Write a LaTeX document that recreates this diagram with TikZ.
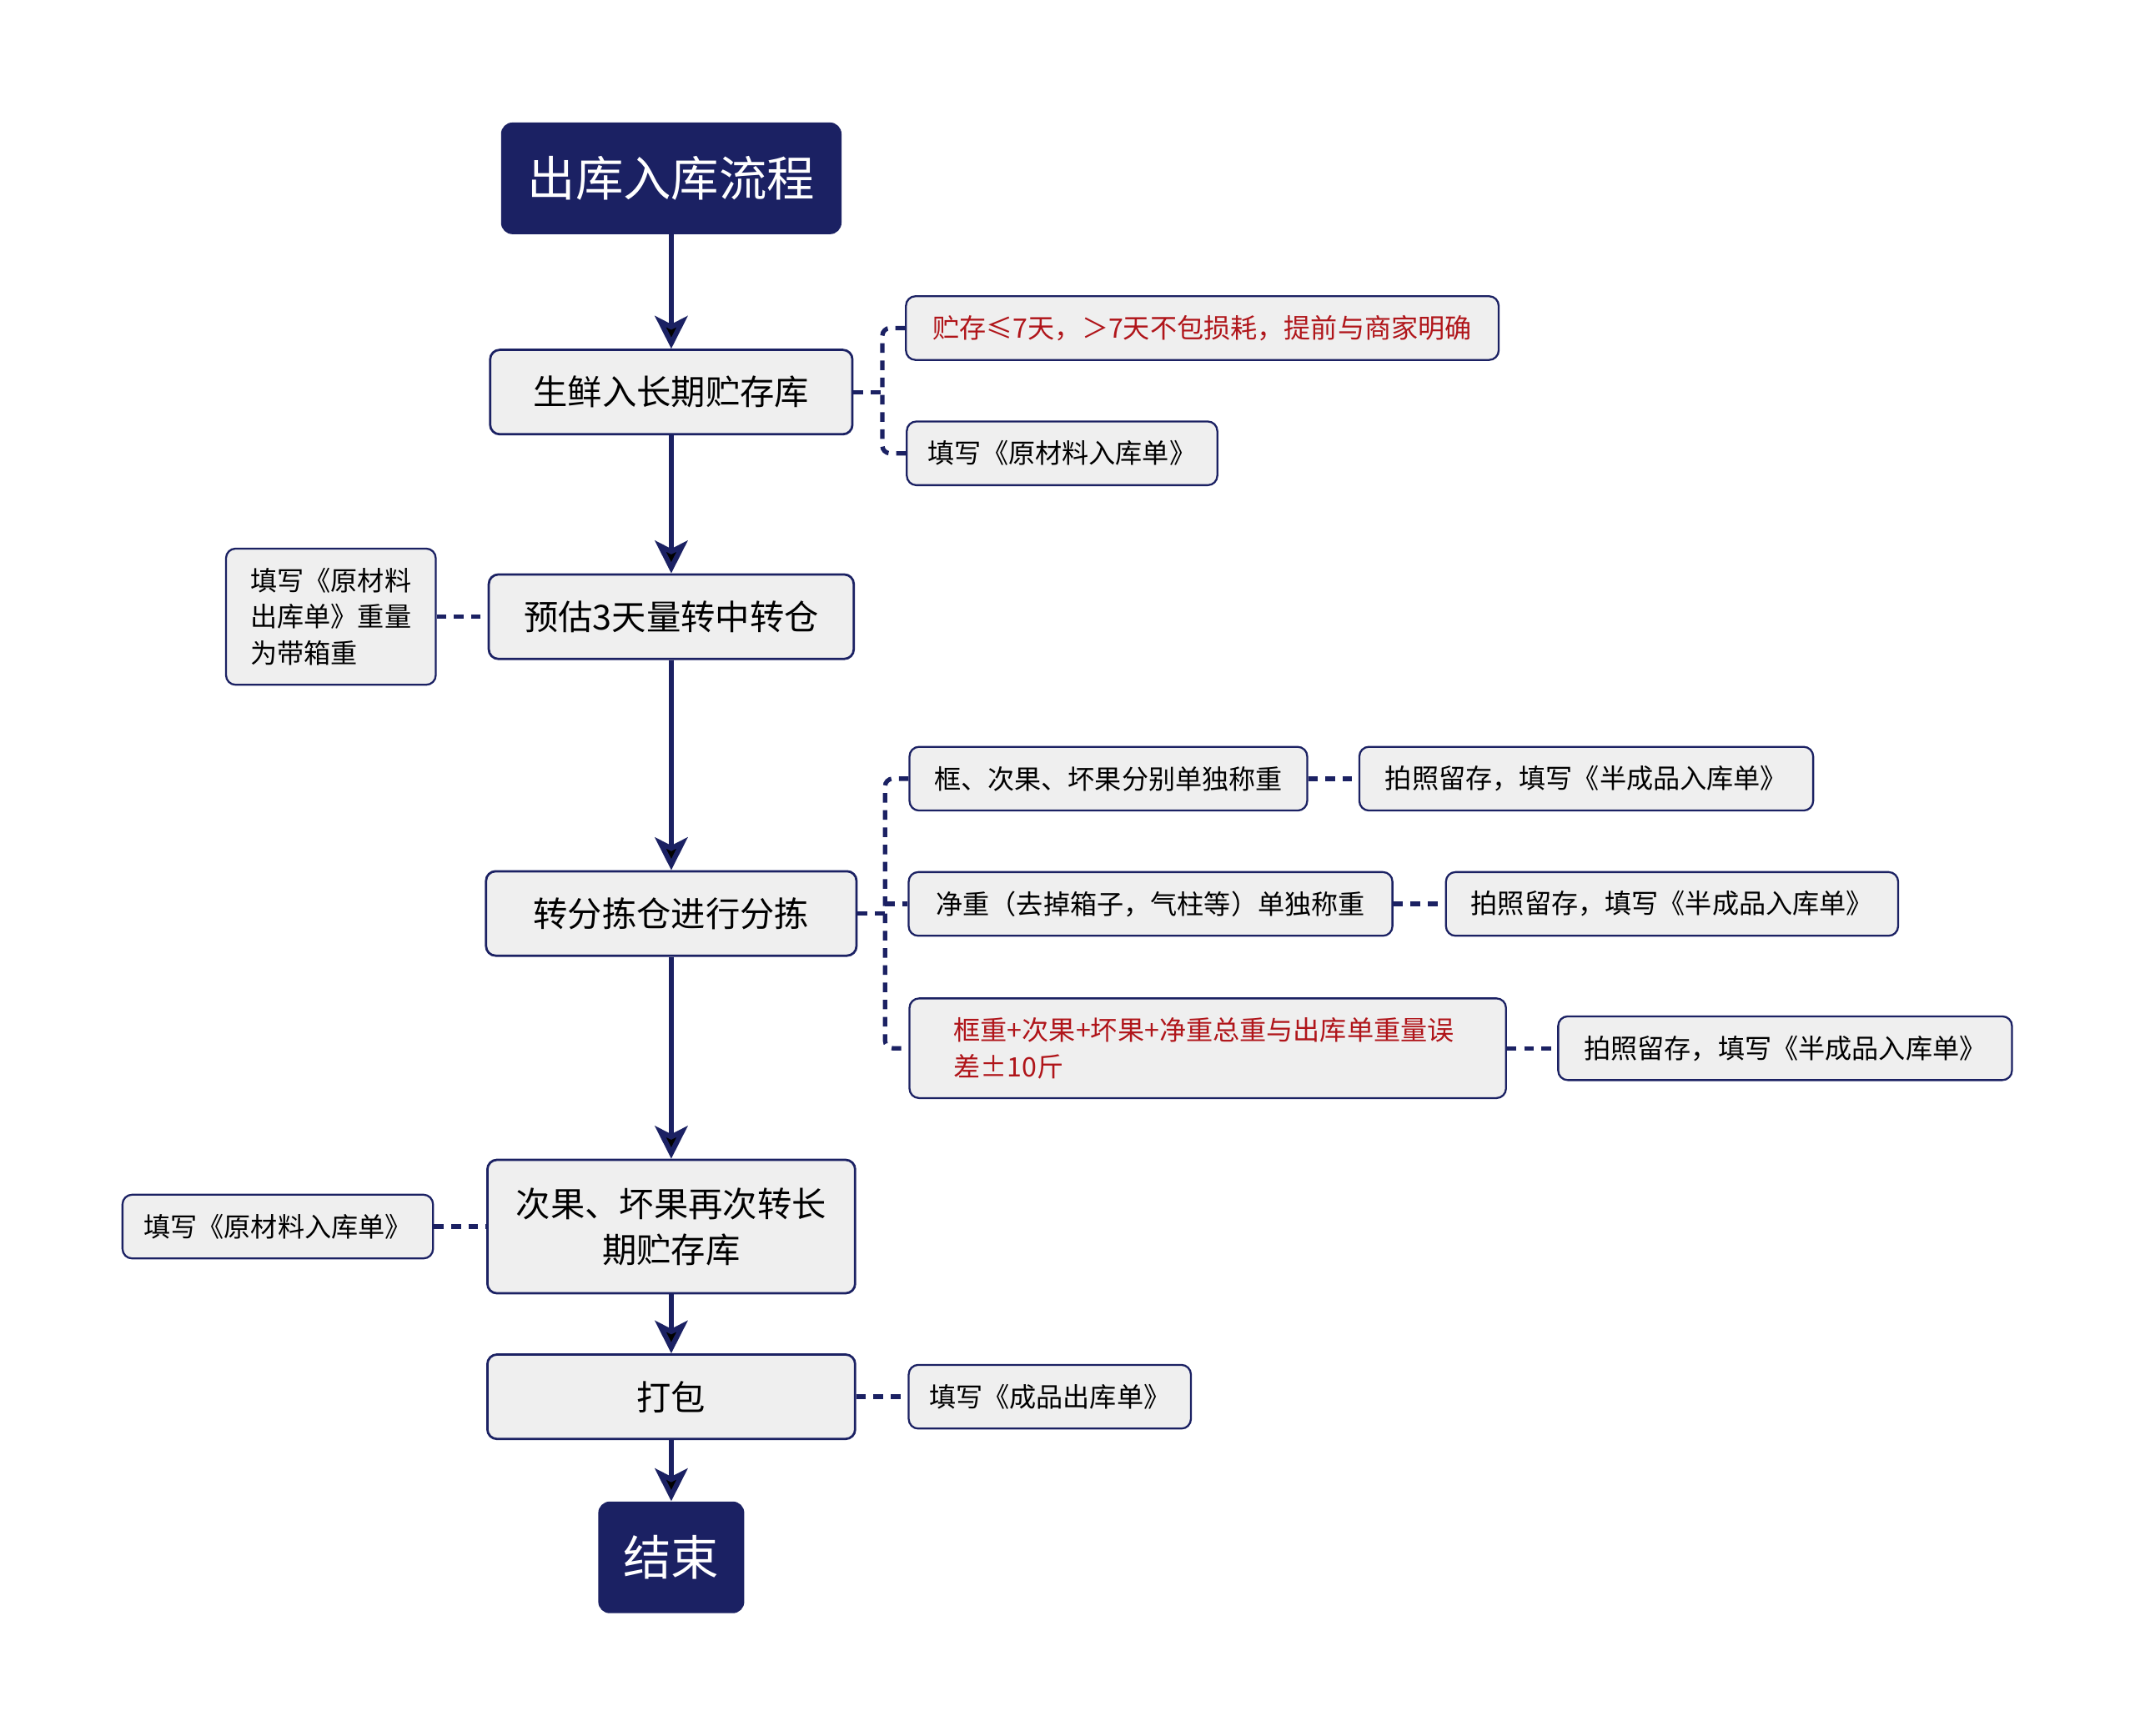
\documentclass[tikz,border=0pt]{standalone}
\usepackage{fontspec}
\setmainfont{Noto Sans CJK SC}
\usepackage{xcolor}
\usetikzlibrary{arrows.meta}
\definecolor{navy}{HTML}{1B2163}
\definecolor{boxgray}{HTML}{EFEFEF}
\definecolor{notered}{HTML}{B0151A}

\begin{document}
\begin{tikzpicture}[->,>={Stealth[length=0.6cm,width=0.6cm,inset=0.15cm]},x=0.025cm,y=-0.025cm,thin]
                \tikzset{every node/.style={inner sep=0pt, align=center},
                  flow/.style={draw=navy, line width=1.2pt, fill=boxgray, rounded corners=5pt, font=\fontsize{18}{24}\selectfont},
                  term/.style={fill=navy, rounded corners=6pt, text=white, font=\fontsize{25}{30}\selectfont},
                  note/.style={draw=navy, line width=1pt, fill=boxgray, rounded corners=5pt, font=\fontsize{14}{19}\selectfont, minimum height=1.17cm},
                  mainline/.style={draw=navy, line width=2.6pt},
                  dashline/.style={-, draw=navy, line width=2.3pt, dash pattern=on 5pt off 4pt, rounded corners=4pt}}
                \useasboundingbox (0,0) rectangle (1568,1275);

                \node[term, minimum width=6.25cm, minimum height=2.05cm] (start) at (493,131) {出库入库流程};
                \node[flow, minimum width=6.65cm, minimum height=1.55cm] (A) at (493,288) {生鲜入长期贮存库};
                \node[flow, minimum width=6.7cm, minimum height=1.55cm] (B) at (493,453) {预估3天量转中转仓};
                \node[flow, minimum width=6.8cm, minimum height=1.55cm] (C) at (493,671) {转分拣仓进行分拣};
                \node[flow, minimum width=6.75cm, minimum height=2.45cm] (D) at (493,901) {次果、坏果再次转长\\期贮存库};
                \node[flow, minimum width=6.75cm, minimum height=1.55cm] (E) at (493,1026) {打包};
                \node[term, minimum width=2.68cm, minimum height=2.05cm] (stop) at (493,1144) {结束};

                \node[note, minimum width=10.88cm, text=notered] (A1) at (883,241) {贮存≤7天，＞7天不包损耗，提前与商家明确};
                \node[note, minimum width=5.7cm] (A2) at (780,333) {填写《原材料入库单》};
                \node[note, minimum width=3.85cm, minimum height=2.5cm, align=left] (B1) at (243,453) {填写《原材料\\出库单》重量\\为带箱重};
                \node[note, minimum width=7.3cm] (C1) at (814,572) {框、次果、坏果分别单独称重};
                \node[note, minimum width=8.33cm] (C1b) at (1165,572) {拍照留存，填写《半成品入库单》};
                \node[note, minimum width=8.88cm] (C2) at (845,664) {净重（去掉箱子，气柱等）单独称重};
                \node[note, minimum width=8.3cm] (C2b) at (1228,664) {拍照留存，填写《半成品入库单》};
                \node[note, minimum width=10.95cm, minimum height=1.83cm, text=notered, align=left] (C3) at (887,770) {框重+次果+坏果+净重总重与出库单重量误\\差±10斤\hspace*{7.3cm}};
                \node[note, minimum width=8.33cm] (C3b) at (1311,770) {拍照留存，填写《半成品入库单》};
                \node[note, minimum width=5.7cm] (D1) at (204,901) {填写《原材料入库单》};
                \node[note, minimum width=5.18cm] (E1) at (771,1026) {填写《成品出库单》};

                \path[mainline] (start) edge (A) (A) edge (B) (B) edge (C) (C) edge (D) (D) edge (E) (E) edge (stop);

                \coordinate (jA) at (648,288);
                \coordinate (jC) at (650,671);
                \draw[dashline] (A.east) -- (jA);
                \draw[dashline] (A1.west) -| (jA) |- (A2.west);
                \draw[dashline] (B1.east) -- (B.west);
                \draw[dashline] (C.east) -- (jC);
                \draw[dashline] (C1.west) -| (jC) |- (C3.west);
                \draw[dashline] (jC |- C2.west) -- (C2.west);
                \draw[dashline] (C1.east) -- (C1b.west);
                \draw[dashline] (C2.east) -- (C2b.west);
                \draw[dashline] (C3.east |- C3b.west) -- (C3b.west);
                \draw[dashline] (D1.east) -- (D.west);
                \draw[dashline] (E.east) -- (E1.west);
\end{tikzpicture}
\end{document}
